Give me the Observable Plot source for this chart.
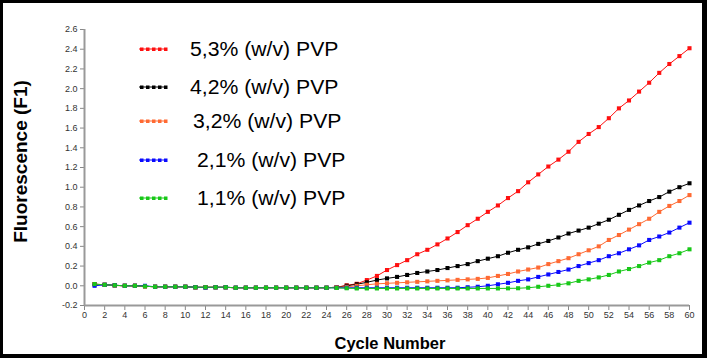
<!DOCTYPE html>
<html>
<head>
<meta charset="utf-8">
<script src="https://cdn.jsdelivr.net/npm/d3@7"></script>
<script src="https://cdn.jsdelivr.net/npm/@observablehq/plot@0.6"></script>
<style>
  html, body { margin: 0; padding: 0; background: #fff; }
  #wrap { position: relative; width: 707px; height: 358px; overflow: hidden; font-family: "Liberation Sans", Arial, sans-serif; }
  #wrap svg { position: absolute; left: 0; top: 0; }
  #frame { position: absolute; left: 0; top: 0; width: 707px; height: 358px; box-sizing: border-box;
           border-style: solid; border-color: #000; border-width: 3px 5px 4px 3px; pointer-events: none; }
  .leg { position: absolute; display: flex; align-items: center; white-space: nowrap; }
  .leg span { font-size: 20px; color: #000; display: inline-block; transform: scaleX(1.06); transform-origin: left center; }
</style>
</head>
<body>
<div id="wrap"><div id="frame"></div></div>
<script>
// ---- data ----
const cycles = d3.range(1, 61);
const seriesNames = ["5,3% (w/v) PVP", "4,2% (w/v) PVP", "3,2% (w/v) PVP", "2,1% (w/v) PVP", "1,1% (w/v) PVP"];
const seriesColors = ["#ff1010", "#000000", "#ff6a33", "#0a0aff", "#18c818"];
const red = [0.017,0.01,0.005,0,0,-0.005,-0.01,-0.01,-0.01,-0.01,-0.015,-0.015,-0.015,-0.015,-0.02,-0.02,-0.02,-0.02,-0.02,-0.02,-0.02,-0.02,-0.02,-0.02,-0.015,
  0.005,0.02,0.058,0.10,0.16,0.21,0.26,0.32,0.365,0.42,0.48,0.545,0.615,0.68,0.75,0.815,0.89,0.96,1.05,1.13,1.21,1.28,1.36,1.46,1.54,1.61,1.70,1.80,1.88,1.97,2.06,2.16,2.25,2.33,2.41];
const black = [0.015,0.01,0.005,0,0,-0.005,-0.01,-0.01,-0.01,-0.01,-0.015,-0.015,-0.015,-0.015,-0.02,-0.02,-0.02,-0.02,-0.02,-0.02,-0.02,-0.02,-0.02,-0.02,-0.015,
  0.0,0.015,0.035,0.058,0.075,0.09,0.11,0.13,0.145,0.16,0.18,0.20,0.22,0.25,0.275,0.30,0.335,0.365,0.39,0.425,0.455,0.49,0.53,0.56,0.59,0.63,0.67,0.72,0.77,0.815,0.86,0.90,0.955,1.00,1.04];
const orange = [0.015,0.01,0.002,0,0,-0.005,-0.01,-0.01,-0.01,-0.01,-0.018,-0.015,-0.015,-0.015,-0.022,-0.02,-0.02,-0.02,-0.02,-0.02,-0.02,-0.02,-0.02,-0.02,-0.015,
  -0.01,0.0,0.01,0.02,0.025,0.03,0.035,0.04,0.045,0.05,0.055,0.06,0.065,0.07,0.08,0.10,0.12,0.145,0.165,0.185,0.22,0.25,0.28,0.32,0.36,0.40,0.465,0.515,0.57,0.625,0.68,0.75,0.81,0.86,0.92];
const blue = [0.0,0.01,0.005,0,0,0.0,-0.01,-0.01,-0.01,-0.01,-0.015,-0.018,-0.015,-0.015,-0.02,-0.02,-0.02,-0.02,-0.02,-0.02,-0.02,-0.02,-0.02,-0.02,-0.02,
  -0.02,-0.02,-0.02,-0.02,-0.02,-0.02,-0.02,-0.02,-0.02,-0.02,-0.02,-0.02,-0.015,-0.01,0.0,0.015,0.03,0.05,0.065,0.09,0.115,0.14,0.165,0.20,0.23,0.26,0.30,0.33,0.37,0.41,0.465,0.50,0.54,0.59,0.64];
const green = [0.017,0.01,0.005,0,0,-0.005,-0.01,-0.01,-0.01,-0.01,-0.015,-0.015,-0.015,-0.015,-0.02,-0.02,-0.02,-0.02,-0.02,-0.02,-0.02,-0.02,-0.02,-0.02,-0.022,
  -0.025,-0.027,-0.027,-0.027,-0.027,-0.027,-0.027,-0.027,-0.027,-0.027,-0.027,-0.027,-0.027,-0.027,-0.027,-0.027,-0.026,-0.025,-0.02,-0.01,0.0,0.01,0.025,0.05,0.065,0.085,0.11,0.145,0.17,0.20,0.235,0.26,0.30,0.33,0.37];
const yTicks = [-0.2,0,0.2,0.4,0.6,0.8,1.0,1.2,1.4,1.6,1.8,2.0,2.2,2.4,2.6];
const xTicks = d3.range(0, 61, 2);
const xLabel = "Cycle Number";
const yLabel = "Fluorescence (F1)";

// ---- table ----
const allValues = [red, black, orange, blue, green];
const rows = [];
allValues.forEach((vals, i) => vals.forEach((v, j) => rows.push({cycle: cycles[j], value: v, series: seriesNames[i]})));

const colorScale = {domain: seriesNames, range: seriesColors};

const chart = Plot.plot({
  width: 707,
  height: 358,
  marginLeft: 84,
  marginRight: 18,
  marginTop: 29,
  marginBottom: 53,
  style: {fontFamily: "'Liberation Sans', Arial, sans-serif", fontSize: "9px", color: "#333", background: "transparent"},
  x: {domain: [0, 60]},
  y: {domain: [-0.2, 2.6]},
  color: colorScale,
  marks: [
    Plot.axisY({ticks: yTicks, tickFormat: d => d.toFixed(1), tickSize: 4, tickPadding: 3, stroke: "#888", label: null}),
    Plot.axisX({ticks: xTicks, tickFormat: d => String(d), tickSize: 5, tickPadding: 1, stroke: "#888", label: null}),
    Plot.ruleX([0], {stroke: "#999", strokeWidth: 2}),
    Plot.ruleY([-0.2], {stroke: "#999", strokeWidth: 2}),
    Plot.line(rows, {x: "cycle", y: "value", z: "series", stroke: "series", strokeWidth: 1}),
    Plot.dot(rows, {x: "cycle", y: "value", fill: "series", symbol: "square", r: 2.3, stroke: null}),
    Plot.text([yLabel], {frameAnchor: "left", text: d => d, rotate: -90, textAnchor: "middle", lineAnchor: "middle", dx: -64, dy: -6, fontSize: 19, fontWeight: "bold", fill: "#000"}),
    Plot.text([xLabel], {frameAnchor: "bottom", text: d => d, textAnchor: "middle", lineAnchor: "middle", dx: 3, dy: 38, fontSize: 16.5, fontWeight: "bold", fill: "#000"})
  ]
});
const wrap = document.getElementById("wrap");
wrap.insertBefore(chart, wrap.firstChild);

// ---- legend (HTML overlay) ----
const legendLayout = [
  {top: 49, left: 138, textLeft: 190},
  {top: 87, left: 138, textLeft: 190},
  {top: 121, left: 138, textLeft: 193},
  {top: 160, left: 138, textLeft: 197},
  {top: 198, left: 138, textLeft: 197}
];
seriesNames.forEach((name, i) => {
  const L = legendLayout[i];
  const sw = document.createElement("div");
  sw.style.position = "absolute";
  sw.style.left = L.left + "px";
  sw.style.top = (L.top - 4) + "px";
  const ns = "http://www.w3.org/2000/svg";
  const s = document.createElementNS(ns, "svg");
  s.setAttribute("width", 30); s.setAttribute("height", 8);
  const ln = document.createElementNS(ns, "line");
  ln.setAttribute("x1", 1); ln.setAttribute("x2", 28); ln.setAttribute("y1", 4); ln.setAttribute("y2", 4);
  ln.setAttribute("stroke", seriesColors[i]); ln.setAttribute("stroke-width", 1);
  s.appendChild(ln);
  for (let k = 0; k < 5; k++) {
    const r = document.createElementNS(ns, "rect");
    r.setAttribute("x", 2 + k * 6); r.setAttribute("y", 2.5); r.setAttribute("width", 3.5); r.setAttribute("height", 3.5);
    r.setAttribute("fill", seriesColors[i]);
    s.appendChild(r);
  }
  sw.appendChild(s);
  wrap.appendChild(sw);
  const t = document.createElement("div");
  t.className = "leg";
  t.style.left = L.textLeft + "px";
  t.style.top = (L.top - 12) + "px";
  t.style.height = "24px";
  const sp = document.createElement("span");
  sp.textContent = name;
  t.appendChild(sp);
  wrap.appendChild(t);
});
</script>
</body>
</html>
